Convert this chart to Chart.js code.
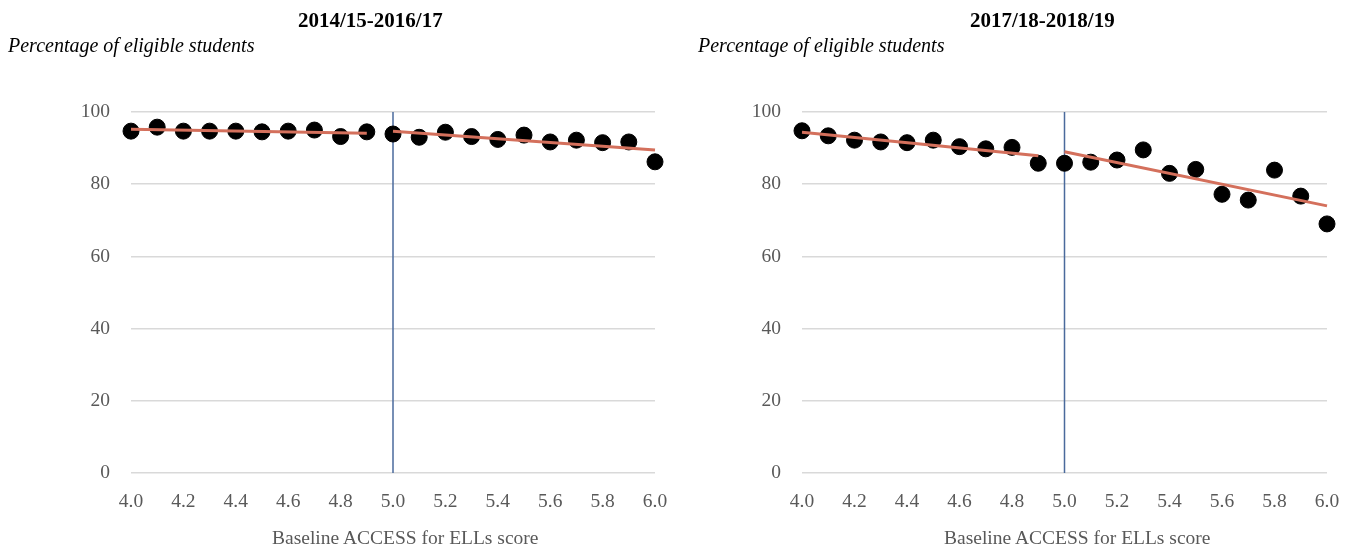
<!DOCTYPE html>
<html>
<head>
<meta charset="utf-8">
<script src="https://cdn.jsdelivr.net/npm/chart.js@4"></script>
<style>
  html, body { margin: 0; padding: 0; background: #fff; }
  body { width: 1353px; height: 552px; position: relative; overflow: hidden; font-family: "Liberation Serif", serif; }
  .wrap { position: absolute; top: 0; height: 552px; }
  .txt { position: absolute; white-space: nowrap; }
  .ttl { font-weight: bold; font-size: 21px; color: #000; top: 8px; }
  .ylab { font-style: italic; font-size: 20px; color: #000; top: 34px; }
  .xlab { font-size: 19.5px; color: #595959; top: 527px; }
</style>
</head>
<body>
<div class="wrap" style="left:0;width:676px"><canvas id="early"></canvas></div>
<div class="wrap" style="left:676px;width:677px"><canvas id="late"></canvas></div>

<div class="txt ttl" style="left:298px">2014/15-2016/17</div>
<div class="txt ylab" style="left:8px">Percentage of eligible students</div>
<div class="txt xlab" style="left:272px">Baseline ACCESS for ELLs score</div>

<div class="txt ttl" style="left:970px">2017/18-2018/19</div>
<div class="txt ylab" style="left:698px">Percentage of eligible students</div>
<div class="txt xlab" style="left:944px">Baseline ACCESS for ELLs score</div>

<script>
// Baseline ACCESS for ELLs score bins
const scores = [4.0, 4.1, 4.2, 4.3, 4.4, 4.5, 4.6, 4.7, 4.8, 4.9, 5.0,
                5.1, 5.2, 5.3, 5.4, 5.5, 5.6, 5.7, 5.8, 5.9, 6.0];

// Percentage of eligible students, 2014/15-2016/17
const earlyPct = [94.7, 95.8, 94.7, 94.7, 94.7, 94.5, 94.7, 95.0, 93.2, 94.5, 93.9,
                  93.0, 94.4, 93.2, 92.4, 93.6, 91.7, 92.2, 91.5, 91.7, 86.2];

// Percentage of eligible students, 2017/18-2018/19
const latePct = [94.8, 93.4, 92.2, 91.7, 91.5, 92.2, 90.4, 89.8, 90.2, 85.8, 85.8,
                 86.1, 86.7, 89.5, 83.0, 84.1, 77.2, 75.6, 83.9, 76.7, 69.0];

// Fitted lines below and above the cutoff (start and end values)
const fitBelowX = [4.0, 4.9];
const fitAboveX = [5.0, 6.0];
const earlyFitBelow = [95.2, 94.1];
const earlyFitAbove = [94.7, 89.5];
const lateFitBelow = [94.4, 87.9];
const lateFitAbove = [89.0, 74.0];

// Exit cutoff score
const cutoff = 5.0;

// Axis ranges and ticks
const xTicks = [4.0, 4.2, 4.4, 4.6, 4.8, 5.0, 5.2, 5.4, 5.6, 5.8, 6.0];
const yTicks = [0, 20, 40, 60, 80, 100];

const toXY = (xs, ys) => xs.map((x, i) => ({ x: x, y: ys[i] }));

function buildChart(id, pct, fitBelow, fitAbove, padLeft, padRight) {
  const fitStyle = {
    type: 'line', borderColor: '#d4705c', borderWidth: 3,
    pointRadius: 0, fill: false, clip: false, order: 0
  };
  return new Chart(document.getElementById(id), {
    type: 'scatter',
    data: {
      datasets: [
        Object.assign({ data: toXY(fitBelowX, fitBelow) }, fitStyle),
        Object.assign({ data: toXY(fitAboveX, fitAbove) }, fitStyle),
        {
          data: toXY(scores, pct),
          backgroundColor: '#000', borderColor: '#000',
          pointRadius: 8, pointHoverRadius: 8, clip: false, order: 1
        },
        {
          type: 'line',
          data: [{ x: cutoff, y: yTicks[0] }, { x: cutoff, y: yTicks[yTicks.length - 1] }],
          borderColor: '#4a6a9c', borderWidth: 1.5, pointRadius: 0,
          fill: false, clip: false, order: 2
        }
      ]
    },
    options: {
      responsive: false,
      animation: false,
      events: [],
      layout: { padding: { left: padLeft, right: padRight, top: 112, bottom: 39 } },
      plugins: { legend: { display: false }, tooltip: { enabled: false }, title: { display: false } },
      scales: {
        x: {
          type: 'linear',
          min: xTicks[0], max: xTicks[xTicks.length - 1],
          afterFit: s => { s.height = 40; s.paddingLeft = 0; s.paddingRight = 0; },
          afterBuildTicks: s => { s.ticks = xTicks.map(v => ({ value: v })); },
          grid: { display: false, drawTicks: false },
          border: { display: false },
          ticks: {
            padding: 17, color: '#595959',
            font: { family: 'Liberation Serif', size: 19.5 },
            callback: v => Number(v).toFixed(1)
          }
        },
        y: {
          min: yTicks[0], max: yTicks[yTicks.length - 1],
          afterFit: s => { s.width = 60; },
          afterBuildTicks: s => { s.ticks = yTicks.map(v => ({ value: v })); },
          grid: { color: '#d9d9d9', lineWidth: 1.5, drawTicks: false },
          border: { display: false },
          ticks: {
            padding: 21, color: '#595959',
            font: { family: 'Liberation Serif', size: 19.5 }
          }
        }
      }
    }
  });
}

function sizeCanvas(id, w) {
  const c = document.getElementById(id);
  c.width = w; c.height = 552;
  c.style.width = w + 'px'; c.style.height = '552px';
}
sizeCanvas('early', 676);
sizeCanvas('late', 677);

buildChart('early', earlyPct, earlyFitBelow, earlyFitAbove, 71, 21);
buildChart('late', latePct, lateFitBelow, lateFitAbove, 66, 26);
</script>
</body>
</html>
